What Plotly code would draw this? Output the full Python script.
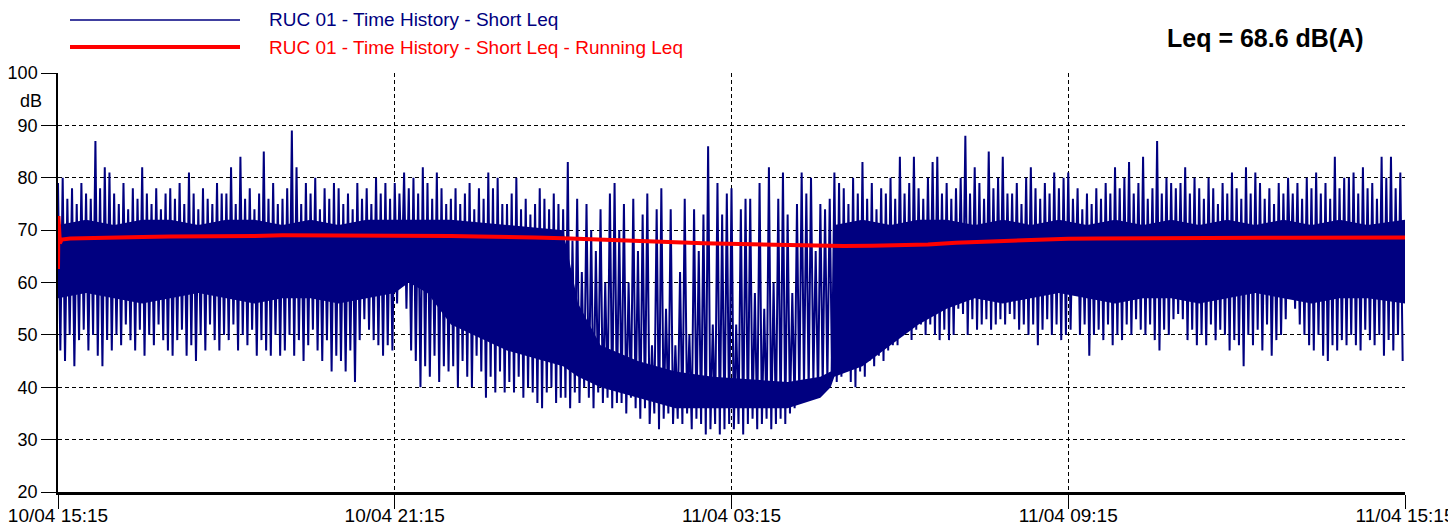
import pandas as pd
import plotly.graph_objects as go

# ---- data ----
# Short Leq, 5-minute buckets from 10/04 15:15: maximum and minimum of each bucket (dB)
short_hi = [
    79, 80, 76, 78, 75, 79, 77, 76, 87, 78, 82, 81,
    77, 75, 79, 74, 78, 76, 82, 77, 75, 78, 74, 77,
    78, 76, 79, 75, 81, 77, 74, 78, 76, 75, 79, 77,
    77, 82, 75, 84, 76, 78, 74, 77, 85, 76, 79, 75,
    76, 78, 89, 82, 75, 79, 77, 80, 74, 78, 76, 79,
    78, 75, 77, 74, 79, 76, 78, 75, 80, 77, 79, 76,
    79, 77, 81, 78, 80, 77, 82, 79, 76, 81, 78, 75,
    76, 78, 75, 77, 79, 74, 78, 76, 81, 78, 80, 75,
    75, 77, 80, 74, 76, 73, 75, 78, 76, 74, 77, 75,
    74, 83, 68, 76, 62, 75, 70, 66, 74, 60, 77, 79,
    70, 75, 60, 76, 66, 73, 77, 48, 74, 78, 55, 74,
    48, 62, 76, 50, 74, 66, 73, 86, 52, 79, 73, 77,
    78, 52, 74, 76, 76, 58, 79, 55, 82, 60, 76, 81,
    73, 58, 75, 81, 77, 80, 66, 75, 74, 76, 81, 79,
    78, 75, 80, 77, 83, 76, 79, 74, 78, 77, 80, 76,
    84, 77, 79, 84, 78, 76, 80, 83, 84, 77, 79, 76,
    78, 80, 88, 77, 82, 79, 76, 85, 78, 80, 84, 77,
    77, 79, 75, 80, 82, 78, 76, 79, 77, 81, 78, 80,
    81, 76, 78, 74, 77, 75, 78, 76, 79, 77, 82, 78,
    80, 83, 77, 79, 84, 76, 78, 87, 77, 80, 79, 78,
    79, 82, 77, 80, 78, 76, 80, 78, 75, 79, 77, 81,
    78, 76, 82, 77, 81, 79, 76, 78, 75, 79, 77, 80,
    77, 79, 76, 80, 78, 81, 77, 79, 76, 84, 78, 80,
    80, 81, 77, 82, 78, 79, 76, 84, 80, 84, 78, 81,
]
short_lo = [
    47, 45, 50, 44, 49, 51, 47, 50, 46, 44, 49, 47,
    50, 48, 52, 49, 47, 51, 46, 50, 48, 52, 49, 47,
    46, 49, 51, 46, 48, 45, 50, 47, 52, 49, 47, 50,
    49, 52, 47, 50, 48, 51, 46, 49, 47, 46, 50, 46,
    47, 50, 46, 49, 45, 48, 51, 47, 45, 49, 43, 46,
    45, 43, 47, 41, 49, 53, 51, 49, 48, 46, 48, 47,
    56, 61, 55, 47, 45, 40, 44, 42, 46, 41, 44, 43,
    44, 40, 45, 42, 40, 46, 43, 38, 42, 39, 43, 39,
    41, 39, 42, 38, 40, 39, 37, 36, 39, 40, 37, 38,
    38, 36, 39, 37, 40, 38, 36, 39, 37, 38, 36, 37,
    37, 35, 38, 36, 34, 36, 33, 35, 32, 34, 35, 33,
    34, 33, 35, 32, 34, 33, 31, 32, 33, 31, 32, 33,
    32, 33, 31, 33, 34, 32, 33, 34, 32, 33, 34, 33,
    35, 36, 37, 40, 39, 41, 38, 40, 41, 42, 41, 42,
    43, 41, 40, 43, 42, 45, 44, 46, 45, 47, 48, 48,
    50, 51, 49, 51, 52, 50, 52, 50, 49, 51, 49, 50,
    55, 54, 50, 53, 51, 52, 53, 51, 52, 53, 52, 54,
    53, 51, 52, 50, 52, 48, 51, 53, 50, 52, 49, 50,
    51, 58, 50, 52, 46, 50, 51, 49, 52, 48, 50, 49,
    52, 50, 53, 51, 50, 52, 49, 47, 51, 50, 53, 54,
    53, 49, 51, 48, 50, 48, 52, 49, 51, 50, 47, 49,
    48, 44, 50, 48, 51, 47, 52, 46, 49, 50, 53, 61,
    55, 52, 50, 48, 47, 50, 46, 45, 48, 47, 49, 48,
    50, 48, 47, 51, 49, 48, 50, 46, 49, 47, 50, 45,
]
# Densest (solid) core of the Short Leq band: minutes after start, top and bottom (dB)
core_min = [0, 30, 60, 90, 120, 150, 180, 210, 240, 270, 300, 330, 360,
            375, 395, 420, 480, 540, 556, 580, 620, 660, 700, 780, 815, 826,
            830, 860, 890, 920, 950, 980, 1010, 1040, 1070, 1100, 1130, 1160,
            1190, 1220, 1250, 1280, 1310, 1340, 1370, 1400, 1440]
core_top = [71, 72, 71, 72, 72, 71, 72, 72, 71, 72, 71, 72, 72,
            72, 72, 72, 71, 70, 56, 48, 45, 43, 42, 41, 42, 43,
            71, 72, 71, 72, 72, 71, 72, 71, 72, 71, 72, 71,
            72, 71, 72, 71, 72, 71, 72, 71, 72]
core_bot = [57, 58, 57, 56, 57, 58, 57, 56, 57, 57, 56, 57, 58,
            60, 58, 52, 47, 44, 42, 40, 38, 36, 36, 36, 38, 40,
            42, 44, 48, 52, 55, 57, 56, 57, 58, 57, 56, 57,
            57, 56, 57, 58, 57, 56, 57, 57, 56]
# Running Leq: minutes after 10/04 15:15 and level (dB)
run_min = [0, 0.5, 2, 4, 13, 30, 60, 90, 120, 150, 180, 210, 240, 270, 300, 330,
           360, 390, 420, 450, 480, 510, 540, 570, 600, 630, 660, 690, 720, 750,
           780, 810, 840, 870, 900, 930, 960, 990, 1020, 1050, 1080, 1110, 1140,
           1170, 1200, 1230, 1260, 1290, 1320, 1350, 1380, 1410, 1440]
run_leq = [62.6, 72.7, 67.5, 68.2, 68.4, 68.5, 68.6, 68.7, 68.8, 68.8, 68.9, 68.9,
           69.0, 69.0, 69.0, 69.0, 69.0, 68.95, 68.9, 68.8, 68.75, 68.6, 68.45,
           68.3, 68.1, 67.95, 67.7, 67.5, 67.4, 67.2, 67.1, 67.0, 66.95, 67.0,
           67.1, 67.25, 67.6, 67.8, 68.0, 68.2, 68.35, 68.4, 68.45, 68.45, 68.45,
           68.5, 68.5, 68.55, 68.55, 68.6, 68.6, 68.6, 68.6]
x_ticks = ["2024-04-10 15:15", "2024-04-10 21:15", "2024-04-11 03:15",
           "2024-04-11 09:15", "2024-04-11 15:15"]
series_names = ["RUC 01 - Time History - Short Leq",
                "RUC 01 - Time History - Short Leq - Running Leq"]
leq_text = "Leq = 68.6 dB(A)"

# ---- build figure ----
start = pd.Timestamp(x_ticks[0])


def at(m):
    return start + pd.Timedelta(minutes=m)


bx, by = [], []
for i, (h, l) in enumerate(zip(short_hi, short_lo)):
    bx.append(at(5 * i))
    by.append(h)
    bx.append(at(5 * i + 2.5))
    by.append(l)
cx = [at(m) for m in core_min]
rx = [at(m) for m in run_min]

NAVY = "#000080"
RED = "#ff0000"
FONT = "Liberation Sans, Arial, sans-serif"

fig = go.Figure()
fig.add_trace(go.Scatter(x=cx, y=core_bot, mode="lines", line=dict(width=0, color=NAVY),
                         showlegend=False, hoverinfo="skip"))
fig.add_trace(go.Scatter(x=cx, y=core_top, mode="lines", line=dict(width=0, color=NAVY),
                         fill="tonexty", fillcolor=NAVY, showlegend=False, hoverinfo="skip"))
fig.add_trace(go.Scatter(x=bx, y=by, mode="lines", name=series_names[0],
                         line=dict(color=NAVY, width=2.0, simplify=False), showlegend=False))
fig.add_trace(go.Scatter(x=rx, y=run_leq, mode="lines", name=series_names[1],
                         line=dict(color=RED, width=4), showlegend=False))

# page body has an 8px margin: figure is placed at (8, 8) in the window
OFF = 8
W, H = 1456 - OFF, 525 - OFF
L, R, T, B = 58 - OFF, 1405 - OFF, 73 - OFF, 492 - OFF


def px(x):
    return (x - OFF - L) / (R - L)


def py(y):
    return (B - (y - OFF)) / (B - T)


shapes = [
    dict(type="line", xref="paper", yref="paper", x0=px(70), x1=px(240),
         y0=py(20), y1=py(20), line=dict(color=NAVY, width=1.5)),
    dict(type="line", xref="paper", yref="paper", x0=px(70), x1=px(240),
         y0=py(47), y1=py(47), line=dict(color=RED, width=4)),
]
annotations = [
    dict(xref="paper", yref="paper", x=px(267), y=py(20), xanchor="left",
         yanchor="middle", text=series_names[0], showarrow=False,
         font=dict(family=FONT, size=19, color=NAVY)),
    dict(xref="paper", yref="paper", x=px(267), y=py(47), xanchor="left",
         yanchor="middle", text=series_names[1], showarrow=False,
         font=dict(family=FONT, size=19, color=RED)),
    dict(xref="paper", yref="paper", x=px(1366), y=py(38), xanchor="right",
         yanchor="middle", text="<b>" + leq_text + "</b>", showarrow=False,
         font=dict(family=FONT, size=25, color="black")),
    dict(xref="paper", yref="paper", x=px(31), y=py(101), xanchor="center",
         yanchor="middle", text="dB", showarrow=False,
         font=dict(family=FONT, size=18, color="black")),
]

fig.update_layout(
    width=W, height=H,
    margin=dict(l=L, r=W - R, t=T, b=H - B, pad=0, autoexpand=False),
    paper_bgcolor="white", plot_bgcolor="white",
    font=dict(family=FONT, size=18, color="black"),
    shapes=shapes, annotations=annotations, showlegend=False,
)
fig.update_xaxes(
    type="date", range=[x_ticks[0], x_ticks[-1]], automargin=False,
    tickvals=x_ticks, tickformat="%d/%m %H:%M",
    tickfont=dict(family=FONT, size=19, color="black"),
    ticklabeloverflow="allow", ticklabelstandoff=-10,
    showgrid=True, gridcolor="black", griddash="4px,3px", gridwidth=1,
    showline=True, linecolor="black", linewidth=2.5,
    ticks="outside", ticklen=14, tickcolor="black", tickwidth=1,
    zeroline=False,
)
fig.update_yaxes(
    range=[20, 100], dtick=10, tick0=20, automargin=False,
    tickfont=dict(family=FONT, size=18, color="black"),
    showgrid=True, gridcolor="black", griddash="4px,3px", gridwidth=1,
    showline=True, linecolor="black", linewidth=1.5,
    ticks="outside", ticklen=15, tickcolor="black", tickwidth=1,
    zeroline=False,
)

fig.write_html("out.html")
